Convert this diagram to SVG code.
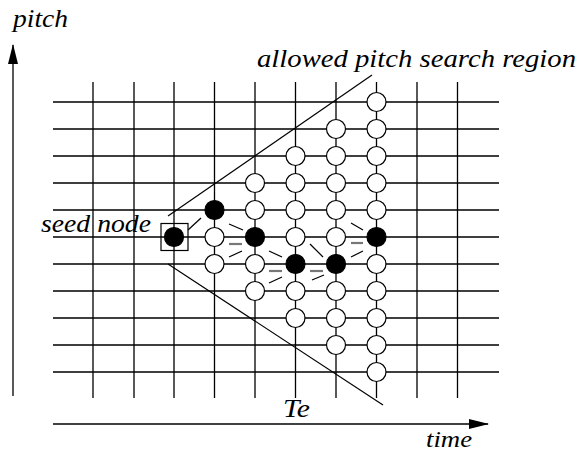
<svg xmlns="http://www.w3.org/2000/svg" width="577" height="453" viewBox="0 0 577 453">
<style>
.g{stroke:#000;stroke-width:1.3;fill:none}
.ax{stroke:#000;stroke-width:1.3;fill:none}
.o{fill:#fff;stroke:#000;stroke-width:1.2}
.f{fill:#000;stroke:#000;stroke-width:1.2}
.c{stroke:#000;stroke-width:1.2}
.cg{stroke:#777;stroke-width:2.2}
</style>
<defs>
<marker id="ah" markerWidth="20" markerHeight="10" refX="19" refY="5" orient="auto" markerUnits="userSpaceOnUse">
<path d="M0,0 L20,5 L0,10 Z" fill="#000"/>
</marker>
</defs>
<g id="grid" class="g">
<path d="M53,102H499M53,129H499M53,156H499M53,183H499M53,210H499M53,237H499M53,264H499M53,291H499M53,318H499M53,345H499M53,372H499"/>
<path d="M93,82V398M134,82V398M174,82V398M214.5,82V398M255,82V398M295.5,82V398M336,82V398M376.5,82V398M417,82V398M457.5,82V398"/>
</g>
<g id="axes">
<line class="ax" x1="13" y1="396" x2="13" y2="45" marker-end="url(#ah)"/>
<line class="ax" x1="53" y1="424" x2="488" y2="424" marker-end="url(#ah)"/>
</g>
<g id="region">
<line class="c" x1="168" y1="216" x2="372" y2="75"/>
<line class="c" x1="168" y1="264" x2="383" y2="405"/>
</g>
<g id="connectors">
<line class="c" x1="188" y1="230" x2="201" y2="218"/>
<line class="c" x1="229" y1="224" x2="243" y2="230"/>
<line class="cg" x1="229" y1="244" x2="242" y2="244"/>
<line class="c" x1="229" y1="257" x2="242" y2="251"/>
<line class="c" x1="269" y1="251" x2="282" y2="257"/>
<line class="cg" x1="269" y1="271" x2="282" y2="271"/>
<line class="c" x1="269" y1="283" x2="282" y2="277"/>
<line class="c" x1="310" y1="244" x2="323" y2="257"/>
<line class="cg" x1="310" y1="271" x2="323" y2="271"/>
<line class="c" x1="312" y1="280" x2="324" y2="275"/>
<line class="c" x1="351" y1="223" x2="363" y2="230"/>
<line class="cg" x1="351" y1="243" x2="363" y2="243"/>
<line class="c" x1="351" y1="257" x2="363" y2="251"/>
</g>
<g id="seed">
<rect x="161" y="223.5" width="27" height="27" fill="none" stroke="#000" stroke-width="1.2"/>
<circle class="f" cx="174" cy="237" r="9.5"/>
</g>
<g id="col1">
<circle class="f" cx="214.5" cy="210" r="9.5"/>
<circle class="o" cx="214.5" cy="237" r="9.5"/>
<circle class="o" cx="214.5" cy="264" r="9.5"/>
</g>
<g id="col2">
<circle class="o" cx="255" cy="183" r="9.5"/>
<circle class="o" cx="255" cy="210" r="9.5"/>
<circle class="f" cx="255" cy="237" r="9.5"/>
<circle class="o" cx="255" cy="264" r="9.5"/>
<circle class="o" cx="255" cy="291" r="9.5"/>
</g>
<g id="col3">
<circle class="o" cx="295.5" cy="156" r="9.5"/>
<circle class="o" cx="295.5" cy="183" r="9.5"/>
<circle class="o" cx="295.5" cy="210" r="9.5"/>
<circle class="o" cx="295.5" cy="237" r="9.5"/>
<circle class="f" cx="295.5" cy="264" r="9.5"/>
<circle class="o" cx="295.5" cy="291" r="9.5"/>
<circle class="o" cx="295.5" cy="318" r="9.5"/>
</g>
<g id="col4">
<circle class="o" cx="336" cy="129" r="9.5"/>
<circle class="o" cx="336" cy="156" r="9.5"/>
<circle class="o" cx="336" cy="183" r="9.5"/>
<circle class="o" cx="336" cy="210" r="9.5"/>
<circle class="o" cx="336" cy="237" r="9.5"/>
<circle class="f" cx="336" cy="264" r="9.5"/>
<circle class="o" cx="336" cy="291" r="9.5"/>
<circle class="o" cx="336" cy="318" r="9.5"/>
<circle class="o" cx="336" cy="345" r="9.5"/>
</g>
<g id="col5">
<circle class="o" cx="376.5" cy="102" r="9.5"/>
<circle class="o" cx="376.5" cy="129" r="9.5"/>
<circle class="o" cx="376.5" cy="156" r="9.5"/>
<circle class="o" cx="376.5" cy="183" r="9.5"/>
<circle class="o" cx="376.5" cy="210" r="9.5"/>
<circle class="f" cx="376.5" cy="237" r="9.5"/>
<circle class="o" cx="376.5" cy="264" r="9.5"/>
<circle class="o" cx="376.5" cy="291" r="9.5"/>
<circle class="o" cx="376.5" cy="318" r="9.5"/>
<circle class="o" cx="376.5" cy="345" r="9.5"/>
<circle class="o" cx="376.5" cy="372" r="9.5"/>
</g>
<g id="labels" font-family="Liberation Serif, Times New Roman, Times, serif" font-style="italic" font-size="25" fill="#000">
<text x="13" y="27" textLength="55" lengthAdjust="spacingAndGlyphs">pitch</text>
<text x="257" y="67" textLength="319" lengthAdjust="spacingAndGlyphs">allowed pitch search region</text>
<text x="41" y="232" textLength="110" lengthAdjust="spacingAndGlyphs">seed node</text>
<text x="283" y="417" textLength="27" lengthAdjust="spacingAndGlyphs">Te</text>
<text x="426" y="447" font-size="24" textLength="46" lengthAdjust="spacingAndGlyphs">time</text>
</g>
</svg>
